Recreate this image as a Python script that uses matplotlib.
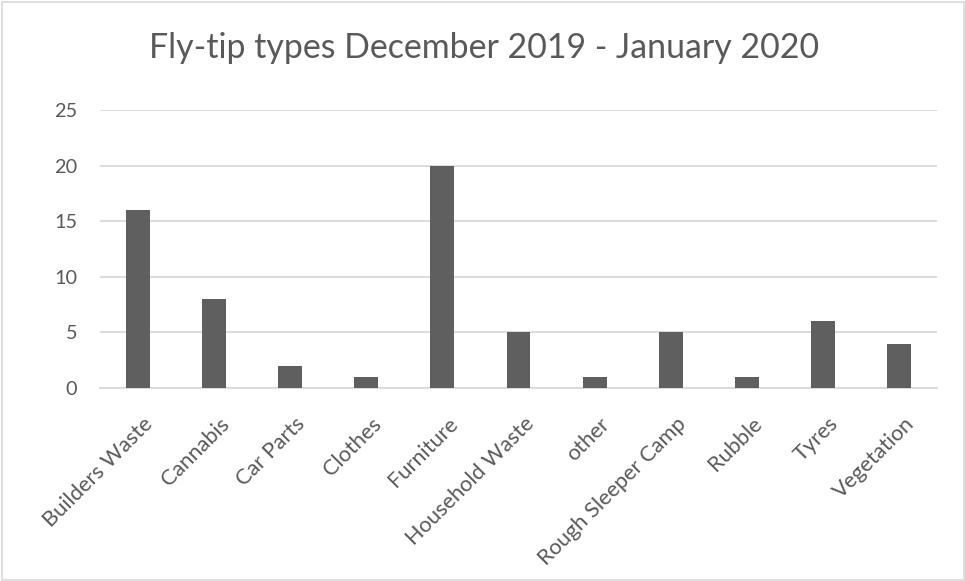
"""Bar chart of fly-tip types, Dec 2019 - Jan 2020."""

import matplotlib

matplotlib.use("Agg")
import matplotlib.pyplot as plt  # noqa: E402
from matplotlib.patches import Rectangle  # noqa: E402
from matplotlib.transforms import ScaledTranslation  # noqa: E402

categories = ["Builders Waste", "Cannabis", "Car Parts", "Clothes", "Furniture",
              "Household Waste", "other", "Rough Sleeper Camp", "Rubble", "Tyres",
              "Vegetation"]
counts = [16, 8, 2, 1, 20, 5, 1, 5, 1, 6, 4]
y_ticks = [0, 5, 10, 15, 20, 25]
title = "Fly-tip types December 2019 - January 2020"

TEXT = "#595959"
GRID = "#d9d9d9"
BAR = "#5f5f5f"

plt.rcParams["font.family"] = ["Lato", "DejaVu Sans"]

W, H = 965, 581
fig = plt.figure(figsize=(W / 100, H / 100), dpi=100)
ax = fig.add_axes([100 / W, (H - 388) / H, 837 / W, 278 / H])

x = range(len(categories))
ax.bar(x, counts, width=0.315, color=BAR, zorder=3)
ax.set_xlim(-0.5, len(categories) - 0.5)
ax.set_ylim(0, 25)
ax.set_yticks(y_ticks)
ax.set_yticklabels([str(t) for t in y_ticks], fontsize=14.3, color=TEXT)
ax.set_xticks(list(x))
ax.set_xticklabels(categories, rotation=45, ha="right", rotation_mode="anchor",
                   fontsize=15.7, color=TEXT)
ax.tick_params(length=0)
ax.tick_params(axis="y", pad=16.5)
ax.tick_params(axis="x", pad=18.5)
# nudge the rotated labels a little right of the tick, like the original
shift = ScaledTranslation(5 / 100, 0, fig.dpi_scale_trans)
for lbl in ax.get_xticklabels():
    lbl.set_transform(lbl.get_transform() + shift)
ax.grid(axis="y", color=GRID, linewidth=1.3, zorder=0)
for side in ("top", "right", "left"):
    ax.spines[side].set_visible(False)
ax.spines["bottom"].set_color(GRID)
ax.spines["bottom"].set_linewidth(1.3)

fig.text(484 / W, 1 - 48 / H, title, ha="center", va="center", fontsize=24.4, color=TEXT)
fig.patches.append(Rectangle((1.5 / W, 1.5 / H), 1 - 3 / W, 1 - 3 / H, transform=fig.transFigure,
                             fill=False, edgecolor=GRID, linewidth=1.2))

fig.savefig("out.png", dpi=100)
plt.close(fig)
